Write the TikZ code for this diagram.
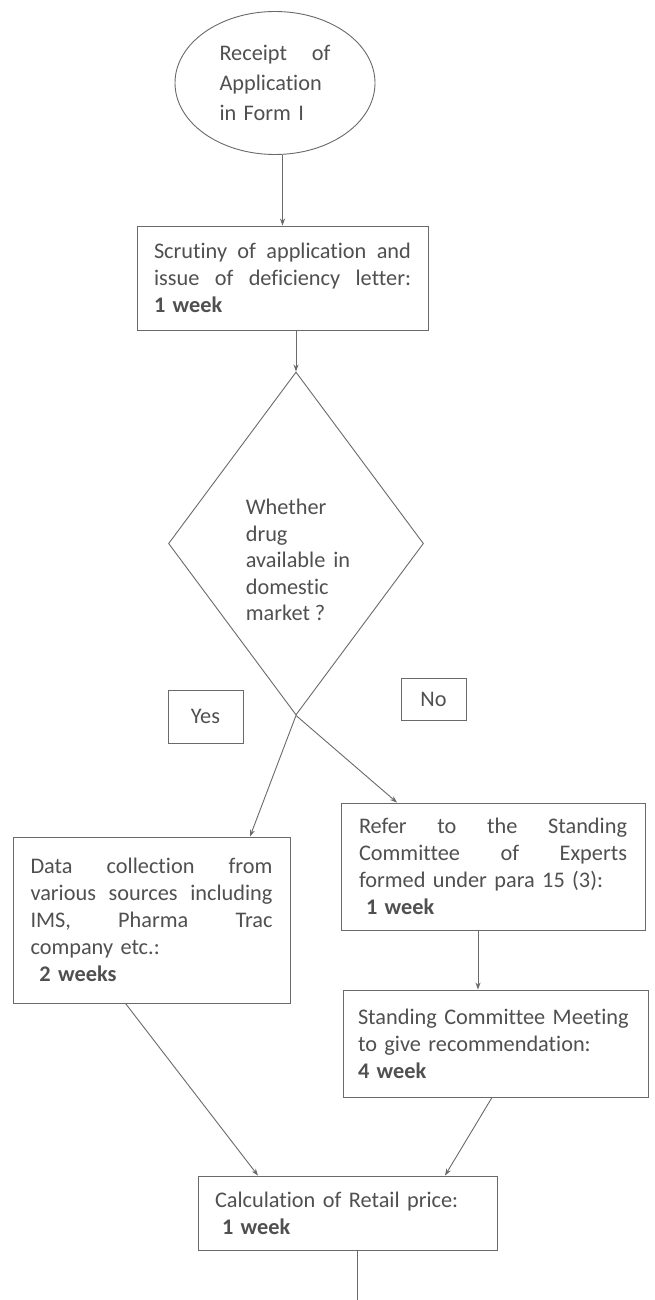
\documentclass[tikz,border=0pt]{standalone}
\usepackage{fontspec}
\setmainfont{Carlito}[Ligatures={NoCommon}]
\usetikzlibrary{shapes.geometric,arrows.meta,calc}
\definecolor{ink}{HTML}{505050}
\definecolor{linec}{HTML}{6A6A6A}
\tikzset{
  base/.style={draw=linec,line width=0.9pt,text=ink,inner sep=0pt,
    font=\fontsize{22.3}{27}\selectfont},
  box/.style={base,rectangle,align=left},
  lbl/.style={base,rectangle,align=center},
  arr/.style={draw=linec,line width=0.9pt,-{Stealth[length=7pt,width=5pt]}},
  plain/.style={draw=linec,line width=0.9pt},
}
\begin{document}
\begin{tikzpicture}[x=1pt,y=-1pt]
\useasboundingbox[fill=white] (0,0) rectangle (655,1300);

\node[base,ellipse,minimum width=200,minimum height=143,text width=111,align=left,
  font=\fontsize{22.3}{30}\selectfont] (e) at (275,83)
  {Receipt\hfill of\\Application\\in Form I};

\node[box,minimum width=291,minimum height=104,text width=257] (scr) at (282.5,278)
  {Scrutiny\hfill of\hfill application\hfill and\\issue\hfill of\hfill deficiency\hfill letter:\\\textbf{1 week}};

\node[base,diamond,minimum width=255,minimum height=343] (q) at (296,543.5) {};
\node[text=ink,align=left,inner sep=0pt,font=\fontsize{22.3}{26.5}\selectfont] (qt) at (298,560)
  {Whether\\drug\\available\hspace{8pt}in\\domestic\\market ?};

\node[lbl,minimum width=75,minimum height=53] (yes) at (205.5,716.5) {Yes};
\node[lbl,minimum width=65,minimum height=42] (no) at (433.5,699) {No};

\node[box,minimum width=277,minimum height=166,text width=242] (data) at (151.5,920)
  {Data\hfill collection\hfill from\\various\hfill sources\hfill including\\IMS,\hfill Pharma\hfill Trac\\company etc.:\\\hspace{9pt}\textbf{2 weeks}};

\node[box,minimum width=304,minimum height=127,text width=268] (ref) at (493,866.5)
  {Refer\hfill to\hfill the\hfill Standing\\Committee\hfill of\hfill Experts\\formed under para 15 (3):\\\hspace{7pt}\textbf{1 week}};

\node[box,minimum width=305,minimum height=107,text width=275] (stc) at (495.5,1043.5)
  {Standing Committee Meeting\\to give recommendation:\\\textbf{4 week}};

\node[box,minimum width=299,minimum height=74,text width=265] (calc) at (347.5,1213)
  {Calculation of Retail price:\\\hspace{7pt}\textbf{1 week}};

\coordinate (end) at (357,1300);

\draw[arr] (scr.north |- e.south) -- (scr.north);
\draw[arr] (q.north |- scr.south) -- (q.north);
\draw[arr] (q.south) -- ([xshift=98.5]data.north);
\draw[arr] (q.south) -- ([xshift=-96]ref.north);
\draw[arr] ([xshift=-15]ref.south) -- ([xshift=-17.5]stc.north);
\draw[arr] ([xshift=-26]data.south) -- ([xshift=-89.5]calc.north);
\draw[arr] ([xshift=-3.5]stc.south) -- ([xshift=97.5]calc.north);
\draw[plain] ([xshift=9.5]calc.south) -- (end);
\end{tikzpicture}
\end{document}
